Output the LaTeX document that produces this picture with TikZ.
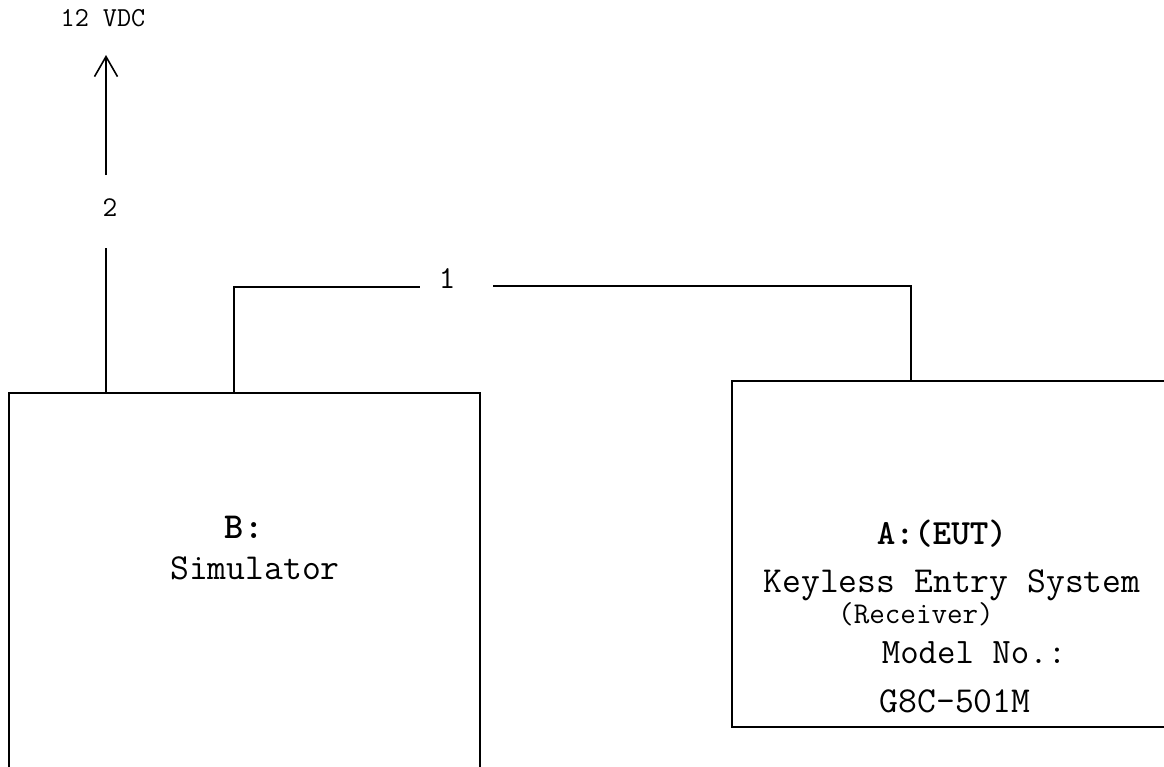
\documentclass[tikz,border=0pt]{standalone}
\usepackage{fontspec}
\usetikzlibrary{arrows.meta}
\tikzset{
  box/.style={draw, line width=0.8pt, inner sep=0pt, outer sep=0pt},
  txt/.style={anchor=base, inner sep=0pt, font=\ttfamily\fontsize{18.3}{20}\selectfont},
  small/.style={anchor=base, inner sep=0pt, font=\ttfamily\fontsize{14.3}{16}\selectfont},
  wire/.style={line width=0.8pt},
}
\begin{document}
\begin{tikzpicture}[x=0.5pt, y=-0.5pt]
\clip (0,0) rectangle (1164,767);
\fill[white] (0,0) rectangle (1164,767);
% boxes
\node[box, minimum width=235.5pt, minimum height=198.5pt] (B) at (244.5,591.5) {};
\node[box, minimum width=229pt, minimum height=173pt] (A) at (961,554) {};
% texts in B
\node[txt, font=\ttfamily\fontsize{18.3}{20}\selectfont\bfseries] (Bl) at (244,538) {B:};
\node[txt] (Bs) at (255,579) {Simulator};
% texts in A
\node[txt, font=\ttfamily\fontsize{17.7}{20}\selectfont\bfseries] (Al) at (942,544) {A:(EUT)};
\node[txt] (Ak) at (952,592) {Keyless Entry System};
\node[txt, font=\ttfamily\fontsize{15.1}{17}\selectfont] (Ar) at (916,623) {(Receiver)};
\node[txt, font=\ttfamily\fontsize{17.9}{20}\selectfont] (Am) at (974,663) {Model No.:};
\node[txt] (Ag) at (955,712) {G8C-501M};
% labels
\node[small, font=\ttfamily\fontsize{13.7}{16}\selectfont] (vdc) at (103,26) {12 VDC};
\node[small] (n2) at (110,216) {2};
\node[small, font=\ttfamily\fontsize{16}{18}\selectfont] (n1) at (447,288) {1};
% wire 2
\coordinate (w2a) at (106,393);
\coordinate (w2b) at (106,248);
\coordinate (w2c) at (106,175);
\coordinate (w2d) at (106,55);
\draw[wire] (w2a) -- (w2b);
\draw[wire, -{Straight Barb[length=10pt, width=11.5pt, line width=0.8pt]}] (w2c) -- (w2d);
% wire 1
\coordinate (w1a) at (234,393);
\coordinate (w1b) at (234,287);
\coordinate (w1c) at (420,287);
\coordinate (w1d) at (493,286);
\coordinate (w1e) at (911,286);
\coordinate (w1f) at (911,381);
\draw[wire] (w1a) -- (w1b) -- (w1c);
\draw[wire] (w1d) -- (w1e) -- (w1f);
\end{tikzpicture}
\end{document}
